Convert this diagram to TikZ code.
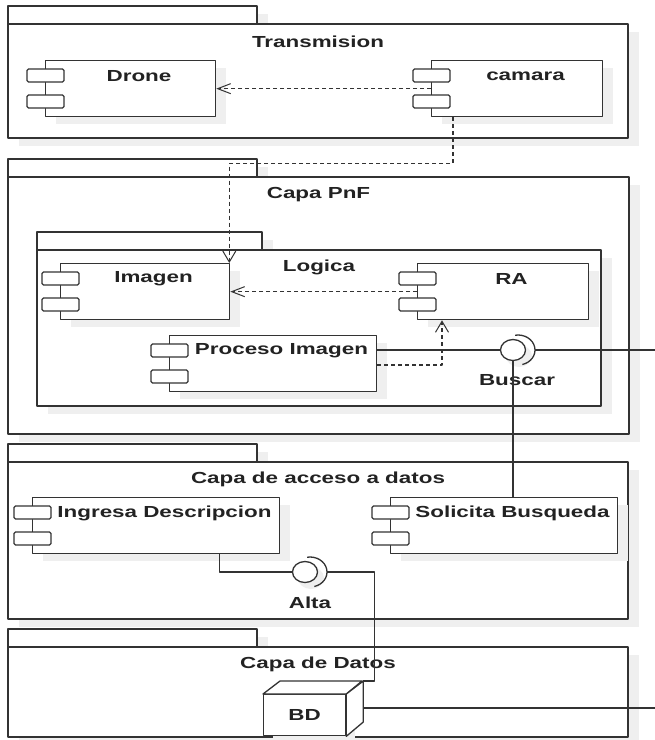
\documentclass[tikz,border=0pt]{standalone}
\usepackage{fontspec}
\setmainfont{Liberation Sans}[FakeStretch=1.4]
\usetikzlibrary{arrows.meta,calc,shapes.geometric}

\definecolor{ink}{HTML}{333333}
\definecolor{shadowgray}{HTML}{EFEFEF}
\definecolor{txt}{HTML}{222222}

\tikzset{
  edge/.style={draw=ink, line width=1.3pt, line join=round},
  drop/.style={fill=shadowgray},
  box/.style={edge, fill=white, rectangle, inner sep=0pt, minimum height=56pt},
  port/.style={draw=ink, line width=1.1pt, fill=white, rounded corners=1.5pt},
  title/.style={text=txt, font=\fontsize{16}{19}\selectfont\bfseries, inner sep=0pt},
  ball/.style={edge, fill=white, ellipse, inner sep=0pt, minimum width=25pt, minimum height=21pt},
  dep/.style={edge, dash pattern=on 4pt off 3pt},
  hbarb/.style={-{Straight Barb[length=13pt,width=10pt,line width=1pt]}},
  vbarb/.style={-{Straight Barb[length=11pt,width=13pt,line width=1pt]}},
}

% package: name, left, body top, right, bottom, tab right, title
\newcommand\pkgframe[7]{%
  \path[drop] (#2+11,#3-10) rectangle (#6+11,#3+8);
  \path[drop] (#2+11,#3+8) rectangle (#4+11,#5+8);
  \draw[edge, fill=white] (#2,#3-18) rectangle (#6,#3);
  \draw[edge, fill=white] (#2,#3) rectangle (#4,#5);
  \node[title] (#1) at ({(#2+#4)/2}, #3+17.5) {#7};
}

% component: name, left, top, width, label
\newcommand\compbox[5]{%
  \path[drop] (#2+11,#3+8) rectangle ++(#4,56);
  \node[box, minimum width=#4pt, anchor=north west] (#1) at (#2,#3) {};
  \draw[port] (#2-18,#3+9) rectangle ++(37,13);
  \draw[port] (#2-18,#3+35) rectangle ++(37,13);
  \node[title] (#1-t) at (#2+#4/2+9,#3+16) {#5};
}

% provided/required interface: name, x, y, label x, label y, label
\newcommand\lollipop[6]{%
  \path[drop] (#2+6,#3+6) ellipse [x radius=13pt, y radius=11pt];
  \node[ball] (#1) at (#2,#3) {};
  \draw[edge] ($(#1.center)+(5,0)$) ++(100:17pt and 15pt)
     arc[start angle=100, end angle=-75, x radius=17pt, y radius=15pt];
  \coordinate (#1-out) at ($(#1.center)+(22,0)$);
  \node[title] (#1-t) at (#4,#5) {#6};
}

\begin{document}
\begin{tikzpicture}[x=1pt, y=-1pt]
  \useasboundingbox (0,0) rectangle (655,740);
  \fill[white] (0,0) rectangle (655,740);

  % Transmision
  \pkgframe{transmision}{8}{24}{628}{138}{257}{Transmision}
  \compbox{drone}{45}{60}{170}{Drone}
  \compbox{camara}{431}{60}{171}{camara}

  % Capa PnF with nested Logica
  \pkgframe{pnf}{8}{177}{629}{434}{257}{Capa PnF}
  \pkgframe{logica}{37}{250}{601}{406}{262}{Logica}
  \compbox{imagen}{60}{263}{169}{Imagen}
  \compbox{ra}{417}{263}{171}{RA}
  \compbox{proceso}{169}{335}{207}{Proceso Imagen}
  \lollipop{buscar}{513}{350}{517}{380}{Buscar}

  % Capa de acceso a datos
  \pkgframe{acceso}{8}{462}{628}{619}{257}{Capa de acceso a datos}
  \compbox{ingresa}{32}{497}{247}{Ingresa Descripcion}
  \compbox{solicita}{390}{497}{227}{Solicita Busqueda}
  \lollipop{alta}{305}{572}{310}{603}{Alta}

  % Capa de Datos
  \pkgframe{datos}{8}{647}{628}{737}{257}{Capa de Datos}
  \path[drop] (273,702) rectangle ++(82,41);
  \node[box, minimum width=82pt, minimum height=41pt, anchor=north west,
        title] (bd) at (263,694) {BD};
  \draw[edge, fill=white] (bd.north west) -- ++(17,-13) -- ++(82,0)
        -- (bd.north east) -- cycle;
  \draw[edge, fill=white] (bd.north east) -- ++(17,-13) -- ++(0,41)
        -- (bd.south east) -- cycle;
  \coordinate (bdback) at ($(bd.north east)+(17,-13)$);

  % dependencies
  \draw[dep, hbarb] (camara.west) -- (drone.east);
  \draw[dep, vbarb] ($(camara.south west)+(22,0)$) -- ++(0,46)
        -| ($(imagen.north east)+(-1,0)$);
  \draw[dep, hbarb] (ra.west) -- (ra.west -| imagen.east);
  \draw[dep, vbarb] ($(proceso.north east)+(0,30)$) -| ($(ra.south west)+(25,0)$);

  % interface wiring
  \coordinate (edgeA) at (655,350);
  \coordinate (edgeB) at (655,708);
  \draw[edge] (proceso.east |- buscar.west) -- (buscar.west);
  \draw[edge] (buscar-out) -- (edgeA);
  \draw[edge] (buscar.south) -- (buscar.south |- solicita.north);
  \draw[edge] ($(ingresa.south east)+(-61,0)$) |- (alta.west);
  \draw[edge] (alta-out) -| ($(bdback)+(11,0)$) -- (bdback);
  \draw[edge] (bdback |- edgeB) -- (edgeB);
\end{tikzpicture}
\end{document}
